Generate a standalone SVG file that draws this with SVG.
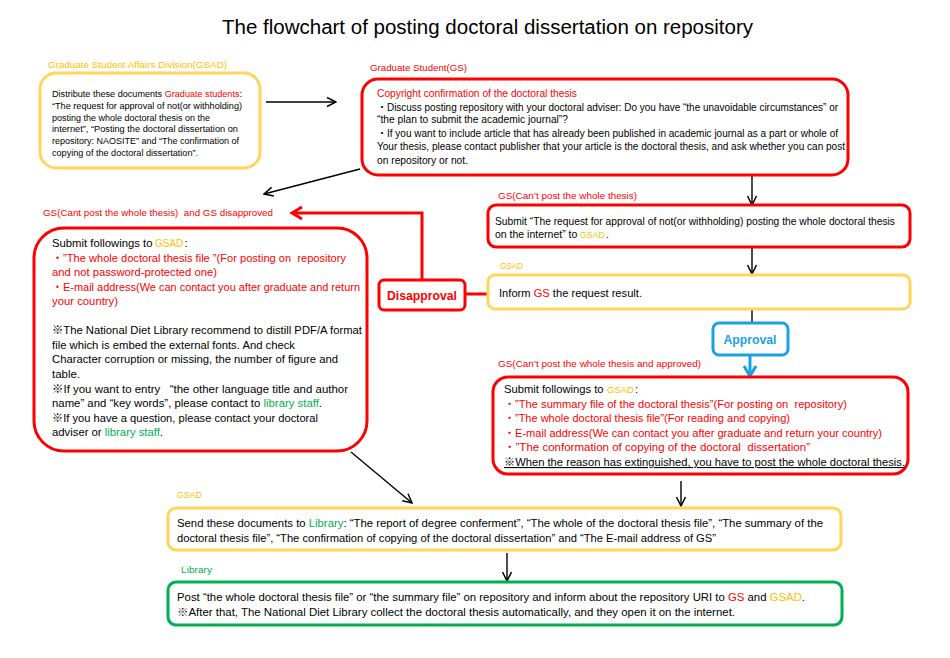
<svg xmlns="http://www.w3.org/2000/svg" width="950" height="658" viewBox="0 0 950 658">
<style>
text{font-family:"Liberation Sans","Noto Sans CJK JP",sans-serif;fill:#000}
.r{fill:#FF0000}
.y{fill:#FFC000}
.g{fill:#00B050}
.lbl{font-size:9.5px}
.bR{fill:#fff;stroke:#FF0000;stroke-width:3}
.bY{fill:#fff;stroke:#FFD55A;stroke-width:3}
.bG{fill:#fff;stroke:#00B050;stroke-width:3}
.bB{fill:#fff;stroke:#1BA1E2;stroke-width:3}
.cb{fill:none;stroke:#000;stroke-width:1.4}
.cr{fill:none;stroke:#FF0000;stroke-width:3}
.cbl{fill:none;stroke:#1BA1E2;stroke-width:3}
.ul{text-decoration:underline}
</style>
<defs>
<marker id="ab" viewBox="0 0 12 12" refX="11" refY="6" markerWidth="12" markerHeight="12" markerUnits="userSpaceOnUse" orient="auto">
<path d="M2,1.5 L11,6 L2,10.5" fill="none" stroke="#000" stroke-width="1.5"/>
</marker>
<marker id="ar" viewBox="0 0 14 16" refX="12" refY="8" markerWidth="14" markerHeight="16" markerUnits="userSpaceOnUse" orient="auto">
<path d="M2,2 L12,8 L2,14" fill="none" stroke="#FF0000" stroke-width="3"/>
</marker>
<marker id="abl" viewBox="0 0 14 16" refX="12" refY="8" markerWidth="14" markerHeight="16" markerUnits="userSpaceOnUse" orient="auto">
<path d="M2,2 L12,8 L2,14" fill="none" stroke="#1BA1E2" stroke-width="3"/>
</marker>
</defs>
<rect width="950" height="658" fill="#fff"/>

<text id="title" x="222" y="34" font-size="20" textLength="531" lengthAdjust="spacingAndGlyphs">The flowchart of posting doctoral dissertation on repository</text>

<g id="connectors">
<line class="cb" x1="266" y1="102" x2="336" y2="102" marker-end="url(#ab)"/>
<line class="cb" x1="360" y1="169" x2="264" y2="194" marker-end="url(#ab)"/>
<line class="cb" x1="752" y1="176" x2="752" y2="205" marker-end="url(#ab)"/>
<line class="cb" x1="752" y1="247" x2="752" y2="274" marker-end="url(#ab)"/>
<line class="cb" x1="752" y1="309" x2="752" y2="323"/>
<line class="cbl" x1="750" y1="356" x2="750" y2="376" marker-end="url(#abl)"/>
<line class="cr" x1="465" y1="294" x2="488" y2="294"/>
<polyline class="cr" points="422,280 422,213 292,213" marker-end="url(#ar)"/>
<line class="cb" x1="351" y1="452" x2="412" y2="503" marker-end="url(#ab)"/>
<line class="cb" x1="681" y1="481" x2="681" y2="506" marker-end="url(#ab)"/>
<line class="cb" x1="507" y1="553" x2="507" y2="581" marker-end="url(#ab)"/>
</g>

<g id="gsad-distribute">
<text class="lbl y" x="48" y="68" font-size="9" textLength="179" lengthAdjust="spacingAndGlyphs">Graduate Student Affairs Division(GSAD)</text>
<rect class="bY" x="40" y="73" width="220" height="95" rx="16"/>
<g font-size="8.4">
<text x="52" y="97" textLength="190" lengthAdjust="spacingAndGlyphs">Distribute these documents <tspan class="r">Graduate students</tspan>:</text>
<text x="52" y="108.8" textLength="190" lengthAdjust="spacingAndGlyphs">“The request for approval of not(or withholding)</text>
<text x="52" y="120.6" textLength="158" lengthAdjust="spacingAndGlyphs">posting the whole doctoral thesis on the</text>
<text x="52" y="132.4" textLength="186" lengthAdjust="spacingAndGlyphs">internet”, “Posting the doctoral dissertation on</text>
<text x="52" y="144.2" textLength="187" lengthAdjust="spacingAndGlyphs">repository: NAOSITE” and “The confirmation of</text>
<text x="52" y="156" textLength="146" lengthAdjust="spacingAndGlyphs">copying of the doctoral dissertation”.</text>
</g>
</g>

<g id="gs-copyright">
<text class="lbl r" x="370" y="71" textLength="97" lengthAdjust="spacingAndGlyphs">Graduate Student(GS)</text>
<rect class="bR" x="362" y="79" width="486" height="96" rx="16"/>
<g font-size="10">
<text class="r" x="377" y="97" textLength="200" lengthAdjust="spacingAndGlyphs">Copyright confirmation of the doctoral thesis</text>
<text x="377" y="110.5" textLength="461" lengthAdjust="spacingAndGlyphs">・Discuss posting repository with your doctoral adviser: Do you have “the unavoidable circumstances” or</text>
<text x="377" y="123" textLength="191" lengthAdjust="spacingAndGlyphs">“the plan to submit the academic journal”?</text>
<text x="377" y="137" textLength="461" lengthAdjust="spacingAndGlyphs">・If you want to include article that has already been published in academic journal as a part or whole of</text>
<text x="377" y="150" textLength="468" lengthAdjust="spacingAndGlyphs">Your thesis, please contact publisher that your article is the doctoral thesis, and ask whether you can post</text>
<text x="377" y="163.5" textLength="91" lengthAdjust="spacingAndGlyphs">on repository or not.</text>
</g>
</g>

<g id="gs-disapproved">
<text class="lbl r" x="43" y="215.5" xml:space="preserve" textLength="230" lengthAdjust="spacingAndGlyphs">GS(Cant post the whole thesis)  and GS disapproved</text>
<rect class="bR" x="34" y="228" width="333" height="223" rx="30"/>
<g font-size="11.5">
<text x="52" y="247" font-size="11.3">Submit followings to</text>
<text class="y" x="155" y="247" font-size="10">GSAD</text>
<text x="184.5" y="247">:</text>
<text class="r" x="52" y="261.5" xml:space="preserve" textLength="294" lengthAdjust="spacingAndGlyphs">・”The whole doctoral thesis file ”(For posting on  repository</text>
<text class="r" x="52" y="276" textLength="165" lengthAdjust="spacingAndGlyphs">and not password-protected one)</text>
<text class="r" x="52" y="290.5" textLength="308" lengthAdjust="spacingAndGlyphs">・E-mail address(We can contact you after graduate and return</text>
<text class="r" x="52" y="305" textLength="66" lengthAdjust="spacingAndGlyphs">your country)</text>
<text x="52" y="334" textLength="310" lengthAdjust="spacingAndGlyphs">※The National Diet Library recommend to distill PDF/A format</text>
<text x="52" y="348.5" textLength="243" lengthAdjust="spacingAndGlyphs">file which is embed the external fonts. And check</text>
<text x="52" y="363" textLength="286" lengthAdjust="spacingAndGlyphs">Character corruption or missing, the number of figure and</text>
<text x="52" y="377.5">table.</text>
<text x="52" y="392.5" xml:space="preserve" textLength="296" lengthAdjust="spacingAndGlyphs">※If you want to entry   “the other language title and author</text>
<text x="52" y="407" textLength="270" lengthAdjust="spacingAndGlyphs">name” and “key words”, please contact to <tspan class="g">library staff</tspan>.</text>
<text x="52" y="421.5" textLength="266" lengthAdjust="spacingAndGlyphs">※If you have a question, please contact your doctoral</text>
<text x="52" y="436" textLength="111" lengthAdjust="spacingAndGlyphs">adviser or <tspan class="g">library staff</tspan>.</text>
</g>
</g>

<g id="gs-request">
<text class="lbl r" x="498" y="199" textLength="139" lengthAdjust="spacingAndGlyphs">GS(Can’t post the whole thesis)</text>
<rect class="bR" x="488" y="205" width="422" height="42" rx="8"/>
<g font-size="10.5">
<text x="495" y="225" textLength="400" lengthAdjust="spacingAndGlyphs">Submit “The request for approval of not(or withholding) posting the whole doctoral thesis</text>
<text x="495" y="238">on the internet” to</text>
<text class="y" x="580" y="238" font-size="8.8">GSAD</text>
<text x="606" y="238">.</text>
</g>
</g>

<g id="gsad-inform">
<text class="lbl y" x="500" y="269" textLength="23" lengthAdjust="spacingAndGlyphs">GSAD</text>
<rect class="bY" x="488" y="275" width="422" height="34" rx="7"/>
<text x="499" y="297" font-size="11" textLength="143" lengthAdjust="spacingAndGlyphs">Inform <tspan class="r">GS</tspan> the request result.</text>
</g>

<g id="disapproval">
<rect class="bR" x="379" y="280" width="86" height="30" rx="5"/>
<text class="r" x="422" y="299.5" font-size="13" font-weight="bold" text-anchor="middle" textLength="70" lengthAdjust="spacingAndGlyphs">Disapproval</text>
</g>

<g id="approval">
<rect class="bB" x="713" y="323" width="75" height="32" rx="6"/>
<text x="750" y="344" font-size="13" font-weight="bold" text-anchor="middle" style="fill:#1BA1E2" textLength="53" lengthAdjust="spacingAndGlyphs">Approval</text>
</g>

<g id="gs-approved">
<text class="lbl r" x="498" y="367" textLength="203" lengthAdjust="spacingAndGlyphs">GS(Can’t post the whole thesis and approved)</text>
<rect class="bR" x="493" y="377" width="415" height="97" rx="15"/>
<g font-size="11">
<text x="504" y="393" font-size="11.2">Submit followings to</text>
<text class="y" x="607" y="393" font-size="9.5">GSAD</text>
<text x="635" y="393">:</text>
<text class="r" x="504" y="407.5" xml:space="preserve" textLength="343" lengthAdjust="spacingAndGlyphs">・”The summary file of the doctoral thesis”(For posting on  repository)</text>
<text class="r" x="504" y="422" textLength="286" lengthAdjust="spacingAndGlyphs">・”The whole doctoral thesis file”(For reading and copying)</text>
<text class="r" x="504" y="436.5" textLength="378" lengthAdjust="spacingAndGlyphs">・E-mail address(We can contact you after graduate and return your country)</text>
<text class="r" x="504" y="451" xml:space="preserve" textLength="306" lengthAdjust="spacingAndGlyphs">・”The conformation of copying of the doctoral  dissertation”</text>
<text class="ul" x="504" y="466" textLength="401" lengthAdjust="spacingAndGlyphs">※When the reason has extinguished, you have to post the whole doctoral thesis.</text>
</g>
</g>

<g id="gsad-send">
<text class="lbl y" x="177" y="498" textLength="25" lengthAdjust="spacingAndGlyphs">GSAD</text>
<rect class="bY" x="168" y="508" width="673" height="42" rx="8"/>
<g font-size="10">
<text x="177" y="527" textLength="646" lengthAdjust="spacingAndGlyphs">Send these documents to <tspan class="g">Library</tspan>: “The report of degree conferment”, “The whole of the doctoral thesis file”, “The summary of the</text>
<text x="177" y="542" textLength="539" lengthAdjust="spacingAndGlyphs">doctoral thesis file”, “The confirmation of copying of the doctoral dissertation” and “The E-mail address of GS”</text>
</g>
</g>

<g id="library-post">
<text class="lbl g" x="181" y="573" textLength="31" lengthAdjust="spacingAndGlyphs">Library</text>
<rect class="bG" x="168" y="582" width="674" height="43" rx="8"/>
<g font-size="10">
<text x="177" y="601" textLength="628" lengthAdjust="spacingAndGlyphs">Post “the whole doctoral thesis file” or “the summary file” on repository and inform about the repository URI to <tspan class="r">GS</tspan> and <tspan class="y">GSAD</tspan>.</text>
<text x="177" y="616" textLength="558" lengthAdjust="spacingAndGlyphs">※After that, The National Diet Library collect the doctoral thesis automatically, and they open it on the internet.</text>
</g>
</g>
</svg>
